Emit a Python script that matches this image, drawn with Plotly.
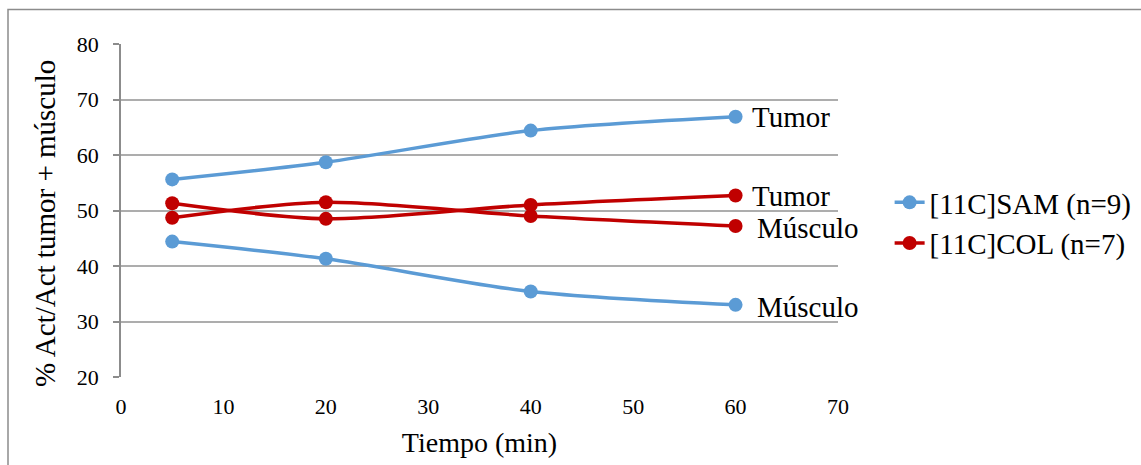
import plotly.graph_objects as go

# Tiempo de muestreo (min)
tiempo = [5, 20, 40, 60]

# % actividad relativa (tumor / músculo) para cada radiotrazador
sam_tumor = [55.6, 58.7, 64.4, 66.9]
sam_musculo = [44.4, 41.3, 35.4, 33.0]
col_tumor = [51.3, 48.5, 51.0, 52.7]
col_musculo = [48.7, 51.5, 49.0, 47.2]

serie_sam = "[11C]SAM (n=9)"
serie_col = "[11C]COL (n=7)"
etiquetas = ["Tumor", "Músculo"]
titulo_x = "Tiempo (min)"
titulo_y = "% Act/Act tumor + músculo"

AZUL = "#5B9BD5"
ROJO = "#C00000"
FUENTE = "Liberation Serif"

fig = go.Figure()


def curva(y, color, nombre, mostrar):
    fig.add_trace(go.Scatter(
        x=tiempo, y=y, mode="lines+markers", name=nombre,
        legendgroup=nombre, showlegend=mostrar,
        line=dict(color=color, width=3.5, shape="spline", smoothing=0.8),
        marker=dict(color=color, size=14),
    ))


curva(sam_tumor, AZUL, serie_sam, True)
curva(sam_musculo, AZUL, serie_sam, False)
curva(col_tumor, ROJO, serie_col, True)
curva(col_musculo, ROJO, serie_col, False)

# Rótulos al final de cada curva
for serie, texto in [(sam_tumor, etiquetas[0]), (sam_musculo, etiquetas[1]),
                     (col_tumor, etiquetas[0]), (col_musculo, etiquetas[1])]:
    fig.add_annotation(
        x=tiempo[-1], y=serie[-1], text=texto, showarrow=False,
        xanchor="left", yanchor="middle",
        xshift=14 if texto == "Tumor" else 19,
        yshift=0 if texto == "Tumor" else -2,
        font=dict(family=FUENTE, size=29, color="black"),
    )

# Título del eje vertical, algo desplazado hacia abajo
fig.add_annotation(
    xref="paper", yref="paper", x=-0.106, y=0.4625,
    xanchor="center", yanchor="middle", textangle=-90,
    text=titulo_y, showarrow=False,
    font=dict(family=FUENTE, size=29, color="black"),
)

# Marco exterior del gráfico
fig.add_shape(type="rect", xref="paper", yref="paper",
              x0=-0.1576, x1=1.43, y0=-0.3, y1=1.1036,
              line=dict(color="#8C8C8C", width=1.5), layer="below")

fig.update_layout(
    width=1141, height=465,
    margin=dict(l=121, r=303, t=44, b=88, autoexpand=False),
    paper_bgcolor="white", plot_bgcolor="white",
    font=dict(family=FUENTE, color="black"),
    showlegend=True,
    legend=dict(
        x=1.072, y=0.4625, xanchor="left", yanchor="middle",
        font=dict(family=FUENTE, size=29, color="black"),
        bgcolor="rgba(0,0,0,0)", tracegroupgap=0,
    ),
    xaxis=dict(
        range=[0, 70], tickmode="linear", tick0=0, dtick=10,
        showgrid=False, zeroline=False, showline=False, ticks="",
        ticklabelstandoff=14,
        tickfont=dict(family=FUENTE, size=22, color="black"),
        title=dict(text=titulo_x,
                   font=dict(family=FUENTE, size=28, color="black"),
                   standoff=14),
    ),
    yaxis=dict(
        range=[20, 80], tickmode="linear", tick0=20, dtick=10,
        showgrid=True, gridcolor="#ADADAD", gridwidth=1.5,
        zeroline=False, showline=True, linecolor="#8C8C8C", linewidth=1.5,
        ticks="outside", ticklen=6, tickcolor="#8C8C8C", tickwidth=1.5,
        ticklabelstandoff=10,
        tickfont=dict(family=FUENTE, size=22, color="black"),
    ),
)

fig.write_html("out.html")
